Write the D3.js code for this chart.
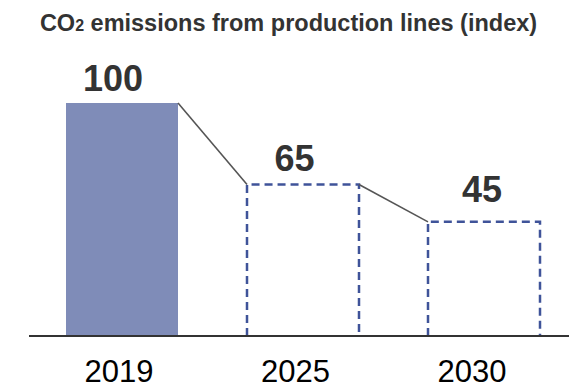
<!DOCTYPE html>
<html>
<head>
<meta charset="utf-8">
<script src="https://cdn.jsdelivr.net/npm/d3@7"></script>
<style>
  html, body { margin: 0; padding: 0; background: #fff; }
  svg { display: block; font-family: Arial, "Liberation Sans", sans-serif; }
</style>
</head>
<body>
<svg id="chart" width="577" height="390"></svg>
<script>
// Data
const categories = ["2019", "2025", "2030"];
const labelValues = [100, 65, 45];          // index labels shown above bars
const barLevels = [100, 65, 49];            // bar heights as drawn in the picture (not to scale)
const barStyles = ["solid", "dashed", "dashed"];
const titleMain = "CO";
const titleSub = "2";
const titleRest = " emissions from production lines (index)";

const svg = d3.select("#chart");
const W = 577, H = 390;
const baseline = 336;

const x = d3.scaleBand().domain(categories).range([66, 540]).paddingInner(69 / 181).paddingOuter(0);
const xLabel = d3.scalePoint().domain(categories).range([119, 472]);
const y = d3.scaleLinear().domain([0, 100]).range([baseline, 103]);

// Title
const title = svg.append("text")
  .attr("x", W / 2).attr("y", 31)
  .attr("text-anchor", "middle")
  .attr("font-weight", "bold").attr("font-size", 23.5)
  .attr("fill", "#333");
title.append("tspan").text(titleMain);
title.append("tspan").attr("font-size", 16).text(titleSub);
title.append("tspan").text(titleRest);

// Bars
categories.forEach((c, i) => {
  const x0 = x(c), bw = x.bandwidth();
  if (barStyles[i] === "solid") {
    svg.append("rect")
      .attr("x", x0).attr("y", y(barLevels[i]))
      .attr("width", bw).attr("height", baseline - y(barLevels[i]))
      .attr("fill", "#7f8cb8");
  } else {
    svg.append("path")
      .attr("d", `M${x0},${baseline}V${y(barLevels[i])}H${x0 + bw}V${baseline}`)
      .attr("fill", "none")
      .attr("stroke", "#3f5399")
      .attr("stroke-width", 2.5)
      .attr("stroke-dasharray", "8,5");
  }
});

// Connectors
for (let i = 0; i < categories.length - 1; i++) {
  svg.append("line")
    .attr("x1", x(categories[i]) + x.bandwidth())
    .attr("y1", y(barLevels[i]))
    .attr("x2", x(categories[i + 1]))
    .attr("y2", y(barLevels[i + 1]))
    .attr("stroke", "#555")
    .attr("stroke-width", 1.6);
}

// Axis baseline
svg.append("line")
  .attr("x1", 29).attr("x2", 569)
  .attr("y1", baseline).attr("y2", baseline)
  .attr("stroke", "#333").attr("stroke-width", 2);

// Category labels
svg.selectAll(".cat").data(categories).enter().append("text")
  .attr("class", "cat")
  .attr("x", d => xLabel(d))
  .attr("y", 382)
  .attr("text-anchor", "middle")
  .attr("font-size", 31)
  .attr("fill", "#000")
  .text(d => d);

// Value labels
const labelOffsets = [12, 14, 20];
const labelShift = [-6, -1, 10];
svg.selectAll(".val").data(labelValues).enter().append("text")
  .attr("class", "val")
  .attr("x", (d, i) => xLabel(categories[i]) + labelShift[i])
  .attr("y", (d, i) => y(barLevels[i]) - labelOffsets[i])
  .attr("text-anchor", "middle")
  .attr("font-weight", "bold")
  .attr("font-size", 36)
  .attr("fill", "#333")
  .text(d => d);
</script>
</body>
</html>
